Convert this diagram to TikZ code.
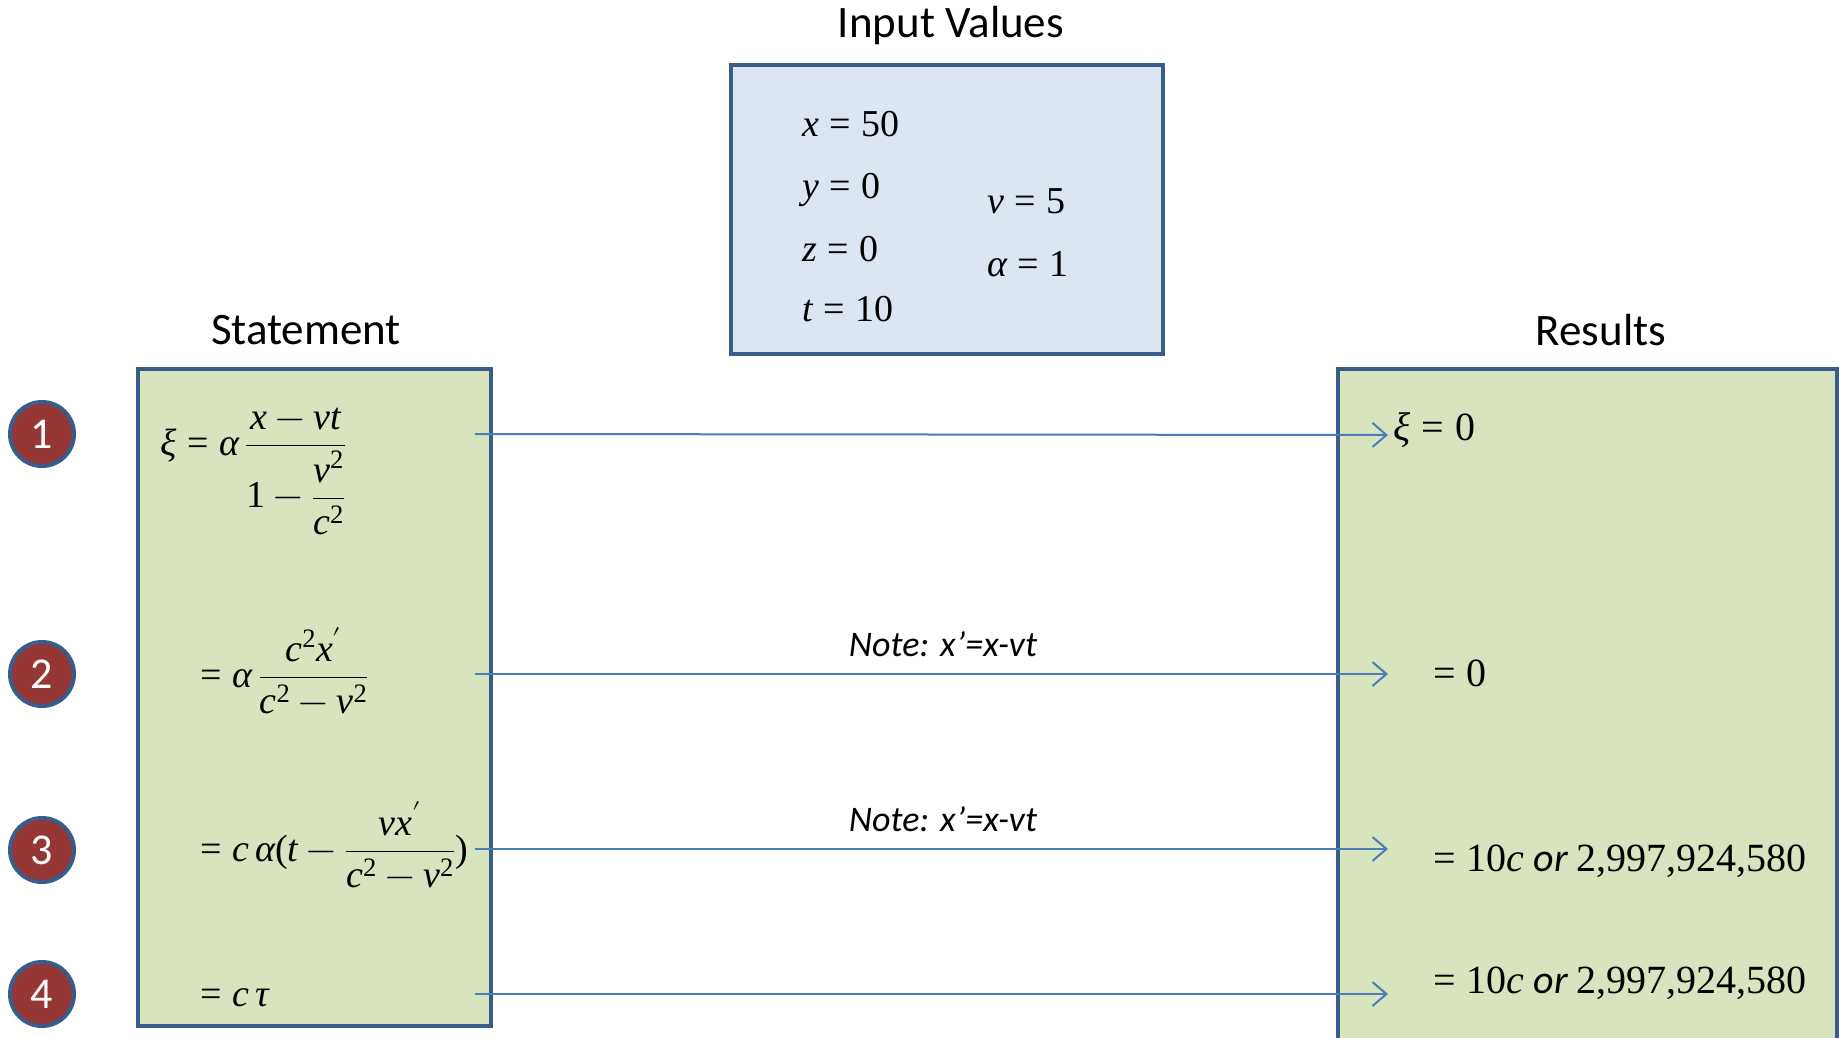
\documentclass[tikz,border=0pt]{standalone}
\usepackage{amsmath}
\usepackage{fontspec}
\usepackage{unicode-math}
\setmainfont{Carlito}
\setmathfont{Latin Modern Math}
\setmathfont[range={it->up}]{Liberation Serif Italic}
\setmathfont[range={up/num}]{Liberation Serif}
\setmathfont[range={"2212,"003D,"0028,"0029,"002C,"2032}]{Liberation Serif}
\usetikzlibrary{positioning, arrows.meta}
\definecolor{boxline}{RGB}{56,93,138}
\definecolor{stepfill}{RGB}{215,228,189}
\definecolor{inputfill}{RGB}{220,230,242}
\definecolor{linkblue}{RGB}{74,126,187}
\definecolor{badge}{RGB}{149,55,53}

\begin{document}
\begin{tikzpicture}[x=1pt, y=-1pt, every node/.style={inner sep=0pt},
  panel/.style={draw=boxline, line width=4pt},
  title/.style={font=\fontsize{45}{54}\selectfont},
  num/.style={circle, draw=boxline, line width=4pt, fill=badge, minimum size=64pt,
    text=white, font=\fontsize{44}{52}\selectfont},
  eq/.style={anchor=base west, font=\fontsize{38}{45}\selectfont},
  res/.style={anchor=base west, font=\fontsize{40}{48}\selectfont},
  note/.style={font=\fontsize{36}{43}\selectfont\itshape},
  arrow/.style={-{Straight Barb[length=14pt, width=24pt]}, linkblue, line width=2pt}]
\useasboundingbox (0,0) rectangle (1839,1038);

% boxes
\draw[panel, fill=inputfill] (731,65) rectangle (1163,354);
\draw[panel, fill=stepfill] (138,369) rectangle (491,1026);
\draw[panel, fill=stepfill] (1338,369) rectangle (1837,1060);

\node[title] (inTitle) at (951,26) {Input Values};
\node[title] (stTitle) at (306,330) {Statement};
\node[title] (resTitle) at (1601,330) {Results};

% input values
\node[eq] (inx) at (802,136) {$x=50$};
\node[eq] (iny) at (802,198) {$y=0$};
\node[eq] (inz) at (802,261) {$z=0$};
\node[eq] (int) at (802,321) {$t=10$};
\node[eq] (inv) at (987,213) {$v=5$};
\node[eq] (ina) at (987,276) {$\alpha=1$};

% steps
\node[num] (n1) at (42,434) {1};
\node[num] (n2) at (42,674) {2};
\node[num] (n3) at (42,850) {3};
\node[num] (n4) at (42,994) {4};

\node[eq] (st1) at (160,455) {$\xi=\alpha\,\dfrac{x-vt}{1-\dfrac{v^{2}}{c^{2}}}$};
\node[eq] (st2) at (200,687) {$=\alpha\,\dfrac{c^{2}x'}{c^{2}-v^{2}}$};
\node[eq] (st3) at (200,861) {$=c\,\alpha(t-\dfrac{vx'}{c^{2}-v^{2}})$};
\node[eq] (st4) at (200,1006) {$=c\,\tau$};

\node[res] (r1) at (1393,440) {$\xi=0$};
\node[res] (r2) at (1433,686) {$=0$};
\node[res] (r3) at (1433,871) {$=10c\ \mathit{or}\ 2{,}997{,}924{,}580$};
\node[res] (r4) at (1433,993) {$=10c\ \mathit{or}\ 2{,}997{,}924{,}580$};

% links
\coordinate (a1) at (475,434); \coordinate (b1) at (1388,435);
\coordinate (a2) at (475,674); \coordinate (b2) at (1388,674);
\coordinate (a3) at (475,849); \coordinate (b3) at (1388,849);
\coordinate (a4) at (475,994); \coordinate (b4) at (1388,994);
\foreach \i in {1,...,4}
  \draw[arrow] (a\i) -- (b\i);

\node[note] (note2) at (943,644) {Note: x’=x-vt};
\node[note] (note3) at (943,819) {Note: x’=x-vt};
\end{tikzpicture}
\end{document}
